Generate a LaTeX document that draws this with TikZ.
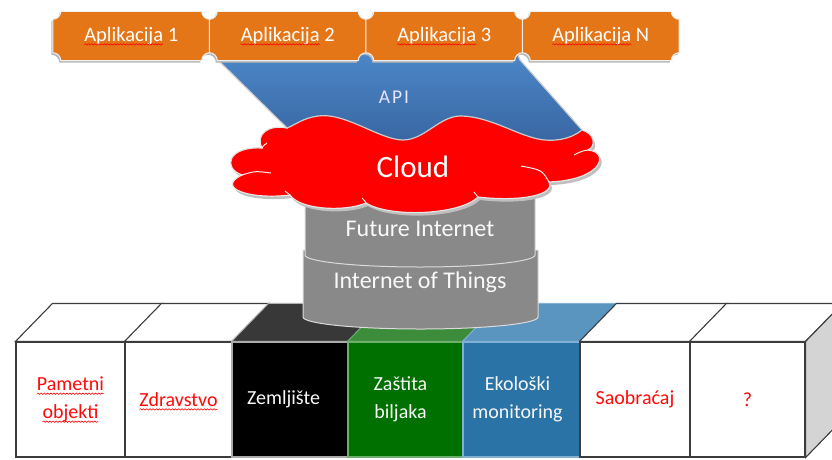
\documentclass[tikz,border=0pt]{standalone}
\usepackage{fontspec}
\setmainfont{Carlito}
\usetikzlibrary{calc,decorations.pathmorphing}
\pgfdeclarelayer{bg}
\pgfsetlayers{bg,main}
\definecolor{appor}{RGB}{228,118,24}
\definecolor{cylgray}{RGB}{137,137,137}
\definecolor{apitop}{RGB}{76,136,202}
\definecolor{apibot}{RGB}{57,102,162}
\definecolor{edgedark}{RGB}{60,60,60}
\definecolor{blacktop}{RGB}{56,56,56}
\definecolor{greenfront}{RGB}{0,112,0}
\definecolor{greentop}{RGB}{60,140,60}
\definecolor{greenedge}{RGB}{110,175,110}
\definecolor{bluefront}{RGB}{42,115,167}
\definecolor{bluetop}{RGB}{90,149,192}
\definecolor{blueedge}{RGB}{130,175,212}
\definecolor{sidegray}{RGB}{212,212,212}
\definecolor{labred}{RGB}{255,10,10}
\definecolor{cloudred}{RGB}{255,0,0}
% word with a red wavy (spell-check) underline
\newcommand{\wv}[1]{\tikz[baseline=0pt]{\node[inner sep=0pt, outer sep=0pt,
  minimum width=0pt, minimum height=0pt, draw=none, fill=none, anchor=base,
  align=left] (w) at (0,0) {#1};
  \draw[overlay, red, line width=0.6pt, decorate,
  decoration={snake, amplitude=0.7pt, segment length=3.2pt}]
  ([yshift=-3pt]w.base west) -- ([yshift=-3pt]w.base east);}}
\tikzset{
  appbox/.style={minimum width=156.5pt, minimum height=49pt, inner sep=0pt, text=white,
    font=\fontsize{20.5}{24}\selectfont},
  frontbox/.style={minimum height=115pt, inner sep=0pt, align=center,
    font=\fontsize{20}{28}\selectfont, draw=edgedark, line width=1.1pt},
  cyltext/.style={text=white!95!gray, font=\fontsize{24}{28}\selectfont, inner sep=0pt},
  plaque/.style={insert path={
    ($(#1.north west)+(8,0)$) -- ($(#1.north east)+(-8,0)$)
    .. controls +(0,4.4) and +(-4.4,0) .. ($(#1.north east)+(0,8)$)
    -- ($(#1.south east)+(0,-8)$)
    .. controls +(-4.4,0) and +(0,-4.4) .. ($(#1.south east)+(-8,0)$)
    -- ($(#1.south west)+(8,0)$)
    .. controls +(0,-4.4) and +(4.4,0) .. ($(#1.south west)+(0,-8)$)
    -- ($(#1.north west)+(0,8)$)
    .. controls +(4.4,0) and +(0,4.4) .. ($(#1.north west)+(8,0)$) -- cycle}},
  topf/.style={insert path={(#1.north west) -- (#1.north east) -- ++(37,-38)
    -- ($(#1.north west)+(37,-38)$) -- cycle}},
  cloudp/.style={insert path={(287,128) -- (283,112) -- (555,106) -- (582,130)
    .. controls (594,133) and (597,146) .. (588,150)
    .. controls (610,152) and (603,180) .. (549,182)
    .. controls (556,195) and (520,202) .. (478,197)
    .. controls (460,215) and (390,218) .. (366,203)
    .. controls (345,212) and (300,210) .. (290,195)
    .. controls (250,200) and (215,188) .. (242,175)
    .. controls (222,168) and (228,146) .. (262,148)
    .. controls (255,135) and (268,124) .. (287,128) -- cycle}},
  crease/.style={draw=white!92!red, line width=1pt},
  cylbody/.style={fill=cylgray, draw=white!72!gray, line width=1pt}
}
\begin{document}
\begin{tikzpicture}[x=1pt,y=-1pt]
\useasboundingbox (0,0) rectangle (832,459);

% ---- application boxes (text) ----
\node[appbox] (a1) at (131.25,36) {\wv{Aplikacija} 1};
\node[appbox] (a2) at (287.75,36) {\wv{Aplikacija} 2};
\node[appbox] (a3) at (444.25,36) {\wv{Aplikacija} 3};
\node[appbox] (a4) at (600.75,36) {\wv{Aplikacija} N};

% ---- domain boxes (front faces) ----
\node[frontbox, fill=white, text=labred, minimum width=109pt] (f1) at (70.5,399.5) {\wv{Pametni}\\\wv{objekti}};
\node[frontbox, fill=white, text=labred, minimum width=107pt] (f2) at (178.5,399.5) {\wv{Zdravstvo}};
\node[frontbox, fill=black, draw=gray!65, text=white!94!gray, minimum width=116pt] (f3) at (290,399.5) {Zemljište\hspace*{13pt}};
\node[frontbox, fill=greenfront, draw=greenedge, text=white!94!gray, minimum width=115pt] (f4) at (405.5,399.5) {Zaštita\hspace*{10pt}\\biljaka\hspace*{10pt}};
\node[frontbox, fill=bluefront, draw=blueedge, text=white!94!gray, minimum width=117pt] (f5) at (521.5,399.5) {Ekološki\hspace*{8pt}\\monitoring\hspace*{8pt}};
\node[frontbox, fill=white, text=labred, minimum width=110pt] (f6) at (635,399.5) {Saobraćaj};
\node[frontbox, fill=white, text=labred, minimum width=115pt] (f7) at (747.5,399.5) {?};

% ---- layer texts ----
\node[cyltext] (fi) at (420,229) {Future Internet};
\node[cyltext] (iot) at (420,282) {Internet of Things};
\node[text=white, font=\fontsize{31}{34}\selectfont, inner sep=0pt] (cloud) at (413,167) {Cloud};
\node[text=white!90!blue, font=\fontsize{19.5}{22}\selectfont, inner sep=0pt] (api) at (394,97) {A\hspace{2pt}P\hspace{2pt}I};

\begin{pgfonlayer}{bg}
  % top faces of the domain boxes
  \filldraw[fill=white, draw=edgedark, line width=1.1pt, topf=f1];
  \filldraw[fill=white, draw=edgedark, line width=1.1pt, topf=f2];
  \filldraw[fill=blacktop, draw=gray!60, line width=1pt, topf=f3];
  \filldraw[fill=greentop, draw=greenedge, line width=1pt, topf=f4];
  \filldraw[fill=bluetop, draw=blueedge, line width=1pt, topf=f5];
  \filldraw[fill=white, draw=edgedark, line width=1.1pt, topf=f6];
  \filldraw[fill=white, draw=edgedark, line width=1.1pt, topf=f7];
  % side face
  \filldraw[fill=sidegray, draw=edgedark, line width=1.1pt]
    (f7.north east) -- ++(37,-38) -- ($(f7.south east)+(37,-38)$) -- (f7.south east) -- cycle;

  % cylinders
  \filldraw[cylbody] (303,250) -- (303,317)
    .. controls (303,323.6) and (355.6,329) .. (420.5,329)
    .. controls (485.4,329) and (538,323.6) .. (538,317) -- (538,250) -- cycle;
  \filldraw[cylbody] (305,195) -- (305,255)
    .. controls (305,261.6) and (356.5,267) .. (420,267)
    .. controls (483.5,267) and (535,261.6) .. (535,255) -- (535,195) -- cycle;

  % cloud
  \fill[gray!50, transform canvas={shift={(2,3)}}, cloudp];
  \filldraw[fill=cloudred, draw=white!80!gray, line width=1.2pt, cloudp];
  \draw[crease] (588,150) .. controls (582,151) .. (574,155);
  \draw[crease] (549,182) .. controls (542,170) .. (521,166);
  \draw[crease] (478,197) .. controls (476,195) .. (474,192);
  \draw[crease] (366,203) .. controls (365,201) .. (362,198);
  \draw[crease] (290,195) .. controls (288,193) .. (285,191);
  \draw[crease] (242,175) .. controls (255,171) .. (271,173);
  \draw[crease] (262,148) .. controls (263,146) .. (267,143);

  % API band
  \shadedraw[top color=apitop, bottom color=apibot, draw=gray!40, line width=1.2pt]
    (218,60) -- (226,50) -- (516,50) -- (520,60) -- (582,130)
    .. controls (570,140) and (552,142) .. (538,139)
    .. controls (515,134) and (490,117) .. (462,116)
    .. controls (440,115) and (425,140) .. (403,140)
    .. controls (380,140) and (345,112) .. (318,116)
    .. controls (303,118) and (295,125) .. (287,128) -- cycle;

  % application plaques
  \foreach \n in {a1,a2,a3,a4} {
    \fill[gray!55, transform canvas={shift={(-1.5,2)}}, plaque=\n];
  }
  \foreach \n in {a1,a2,a3,a4} {
    \filldraw[fill=appor, draw=white!88!gray, line width=1pt, plaque=\n];
  }
\end{pgfonlayer}
\end{tikzpicture}
\end{document}
